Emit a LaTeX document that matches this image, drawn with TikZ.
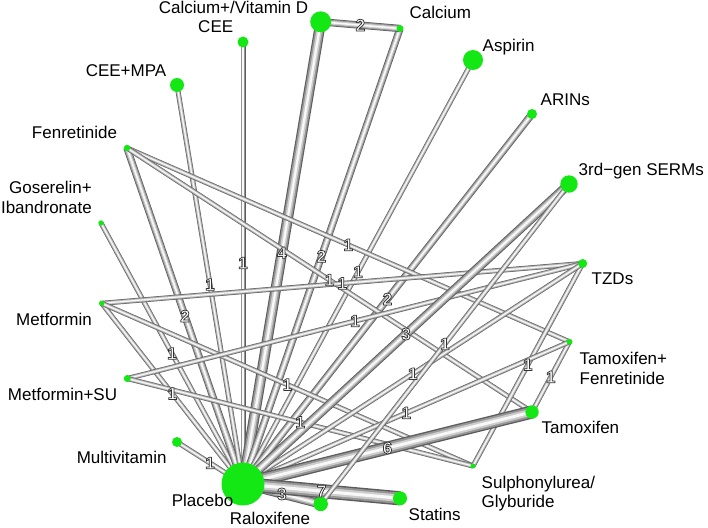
\documentclass[tikz,border=0pt]{standalone}
\usepackage{fontspec}
\setmainfont{Liberation Sans}
\definecolor{ng}{RGB}{20,232,20}
\definecolor{eA}{RGB}{92,92,92}
\definecolor{eB}{RGB}{150,150,150}
\definecolor{eC}{RGB}{205,205,205}
\definecolor{eD}{RGB}{248,248,248}
\newcommand\hol[1]{\special{pdf:bcolor [1 1 1] [0.2 0.2 0.2]}\special{pdf:literal direct 2 Tr 0.75 w}#1\special{pdf:literal direct 0 Tr}\special{pdf:ecolor}}
\newcommand\netedge[3]{%
  \pgfmathsetmacro\ewa{5.6*sqrt(#3)-0.6}%
  \pgfmathsetmacro\ewb{0.80*\ewa}%
  \pgfmathsetmacro\ewc{0.52*\ewa}%
  \pgfmathsetmacro\ewd{0.22*\ewa}%
  \draw[line width=\ewa pt, draw=eA] (#1) -- (#2);
  \draw[line width=\ewb pt, draw=eB] (#1) -- (#2);
  \draw[line width=\ewc pt, draw=eC] (#1) -- (#2);
  \draw[line width=\ewd pt, draw=eD] (#1) -- (#2);
}
\newcommand\netlab[3]{\path (#1) -- (#2) node[cnt, midway] (lab-#1-#2) {\hol{#3}};}
\begin{document}
\begin{tikzpicture}[x=1pt,y=-1pt,
  lbl/.style={inner sep=0pt, font=\fontsize{17}{20}\selectfont},
  cnt/.style={inner sep=0pt, font=\fontsize{17}{18}\selectfont\bfseries},
  dot/.style={circle, fill=ng, inner sep=0pt, draw=none}]
\useasboundingbox (0,0) rectangle (708,527);
% positions
\coordinate (P)   at (243,484);
\coordinate (Ral) at (320.7,504);
\coordinate (Sta) at (400,498.3);
\coordinate (Sul) at (473,466);
\coordinate (Tam) at (532,412);
\coordinate (TF)  at (569.5,341.8);
\coordinate (TZD) at (582.7,263.5);
\coordinate (SER) at (569,184);
\coordinate (ARI) at (532,114);
\coordinate (Asp) at (473,60);
\coordinate (Cal) at (400,28.5);
\coordinate (CVD) at (320.7,21.8);
\coordinate (CEE) at (243,42);
\coordinate (CMP) at (177,85);
\coordinate (Fen) at (127,148);
\coordinate (Gos) at (101,223);
\coordinate (Met) at (101.7,303.3);
\coordinate (MSU) at (127.3,378.5);
\coordinate (MVi) at (177,442);
% edges
\netedge{P}{MVi}{1}
\netedge{P}{Met}{1}
\netedge{P}{Gos}{1}
\netedge{P}{Fen}{2}
\netedge{P}{CMP}{1}
\netedge{P}{CEE}{1}
\netedge{P}{CVD}{4}
\netedge{P}{Cal}{2}
\netedge{CVD}{Cal}{2}
\netedge{P}{Asp}{1}
\netedge{P}{ARI}{2}
\netedge{Fen}{TF}{1}
\netedge{Fen}{Tam}{1}
\netedge{Met}{TZD}{1}
\netedge{Met}{Sul}{1}
\netedge{MSU}{TZD}{1}
\netedge{MSU}{Sul}{1}
\netedge{TZD}{Sul}{1}
\netedge{TF}{Tam}{1}
\netedge{P}{TZD}{1}
\netedge{P}{TF}{1}
\netedge{P}{SER}{3}
\netedge{P}{Tam}{6}
\netedge{P}{Ral}{3}
\netedge{P}{Sta}{7}
\netedge{Ral}{SER}{1}
% nodes
\node[dot, minimum size=43pt]   (nP)   at (P)   {};
\node[dot, minimum size=14.4pt] (nRal) at (Ral) {};
\node[dot, minimum size=14pt]   (nSta) at (Sta) {};
\node[dot, minimum size=5pt]    (nSul) at (Sul) {};
\node[dot, minimum size=13.4pt] (nTam) at (Tam) {};
\node[dot, minimum size=6pt]    (nTF)  at (TF)  {};
\node[dot, minimum size=9pt]    (nTZD) at (TZD) {};
\node[dot, minimum size=17.4pt] (nSER) at (SER) {};
\node[dot, minimum size=10pt]   (nARI) at (ARI) {};
\node[dot, minimum size=20pt]   (nAsp) at (Asp) {};
\node[dot, minimum size=7pt]    (nCal) at (Cal) {};
\node[dot, minimum size=21pt]   (nCVD) at (CVD) {};
\node[dot, minimum size=11pt]   (nCEE) at (CEE) {};
\node[dot, minimum size=14pt]   (nCMP) at (CMP) {};
\node[dot, minimum size=6.4pt]  (nFen) at (Fen) {};
\node[dot, minimum size=5.4pt]  (nGos) at (Gos) {};
\node[dot, minimum size=5.4pt]  (nMet) at (Met) {};
\node[dot, minimum size=7pt]    (nMSU) at (MSU) {};
\node[dot, minimum size=10pt]   (nMVi) at (MVi) {};
% edge counts
\netlab{P}{MVi}{1}
\netlab{P}{Met}{1}
\netlab{P}{Gos}{1}
\netlab{P}{Fen}{2}
\netlab{P}{CMP}{1}
\netlab{P}{CEE}{1}
\netlab{P}{CVD}{4}
\netlab{P}{Cal}{2}
\netlab{CVD}{Cal}{2}
\netlab{P}{Asp}{1}
\netlab{P}{ARI}{2}
\netlab{Fen}{TF}{1}
\netlab{Fen}{Tam}{1}
\netlab{Met}{TZD}{1}
\netlab{Met}{Sul}{1}
\netlab{MSU}{TZD}{1}
\netlab{MSU}{Sul}{1}
\netlab{TZD}{Sul}{1}
\netlab{TF}{Tam}{1}
\netlab{P}{TZD}{1}
\netlab{P}{TF}{1}
\netlab{P}{SER}{3}
\netlab{P}{Tam}{6}
\netlab{P}{Ral}{3}
\netlab{P}{Sta}{7}
\netlab{Ral}{SER}{1}
% text labels
\node[lbl, anchor=base]      (tCVD)  at (233.5,13.3) {Calcium+/Vitamin D};
\node[lbl, anchor=base]      (tCEE)  at (215.7,32.3) {CEE};
\node[lbl, anchor=base]      (tCMP)  at (126,76)     {CEE+MPA};
\node[lbl, anchor=base]      (tFen)  at (74.5,138)   {Fenretinide};
\node[lbl, anchor=base east] (tGos1) at (92,193.3)   {Goserelin+};
\node[lbl, anchor=base east] (tGos2) at (92,213.3)   {Ibandronate};
\node[lbl, anchor=base east] (tMet)  at (92,325)     {Metformin};
\node[lbl, anchor=base east] (tMSU)  at (117.3,400.7) {Metformin+SU};
\node[lbl, anchor=base east] (tMVi)  at (166.7,463)  {Multivitamin};
\node[lbl, anchor=base east] (tP)    at (233.5,506.7) {Placebo};
\node[lbl, anchor=base]      (tRal)  at (270,524.6)  {Raloxifene};
\node[lbl, anchor=base west] (tSta)  at (408.5,520)  {Statins};
\node[lbl, anchor=base west] (tSul1) at (481.5,488)  {Sulphonylurea/};
\node[lbl, anchor=base west] (tSul2) at (481.5,507.5) {Glyburide};
\node[lbl, anchor=base west] (tTam)  at (541.5,433.3) {Tamoxifen};
\node[lbl, anchor=base west] (tTF1)  at (579.5,364)  {Tamoxifen+};
\node[lbl, anchor=base west] (tTF2)  at (579.5,384)  {Fenretinide};
\node[lbl, anchor=base west] (tTZD)  at (591.5,284.7) {TZDs};
\node[lbl, anchor=base west] (tSER)  at (578.5,175.7) {3rd−gen SERMs};
\node[lbl, anchor=base west] (tARI)  at (540.5,105)  {ARINs};
\node[lbl, anchor=base west] (tAsp)  at (482.5,51.7) {Aspirin};
\node[lbl, anchor=base west] (tCal)  at (409.5,19)   {Calcium};
\end{tikzpicture}
\end{document}
